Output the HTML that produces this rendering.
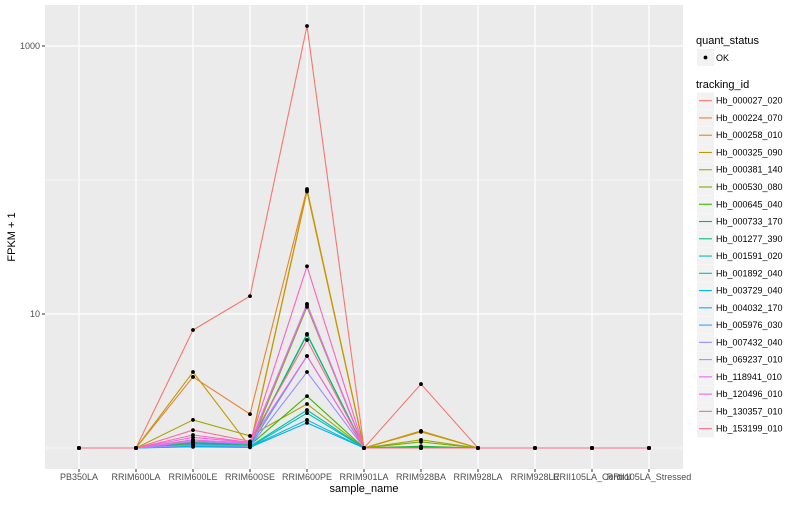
<!DOCTYPE html>
<html><head><meta charset="utf-8"><style>
body{margin:0;background:#fff}
svg text{font-family:"Liberation Sans",sans-serif}
</style></head><body>
<svg id="c" width="800" height="500" xmlns="http://www.w3.org/2000/svg">
<rect x="45" y="5" width="638" height="464" fill="#EBEBEB"/>
<g id="grid"></g><g id="series"></g><g id="axes"></g><g id="legend"></g>
</svg>
<script>
const categories=["PB350LA","RRIM600LA","RRIM600LE","RRIM600SE","RRIM600PE","RRIM901LA","RRIM928BA","RRIM928LA","RRIM928LE","RRII105LA_Control","RRII105LA_Stressed"];
const trackingIds=["Hb_000027_020","Hb_000224_070","Hb_000258_010","Hb_000325_090","Hb_000381_140","Hb_000530_080","Hb_000645_040","Hb_000733_170","Hb_001277_390","Hb_001591_020","Hb_001892_040","Hb_003729_040","Hb_004032_170","Hb_005976_030","Hb_007432_040","Hb_069237_010","Hb_118941_010","Hb_120496_010","Hb_130357_010","Hb_153199_010"];
const colors=["#F8766D","#EA8331","#D89000","#C09B00","#A3A500","#7CAE00","#39B600","#00BB4E","#00BF7D","#00C1A3","#00BFC4","#00BAE0","#00B0F6","#35A2FF","#9590FF","#C77CFF","#E76BF3","#FA62DB","#FF62BC","#FF6C91"];
const s00=[1,1,7.6,13.6,1410,1,3.0,1,1,1,1];
const s01=[1,1,3.39,1.79,85.7,1,1.34,1,1,1,1];
const s02=[1,1,1.15,1.03,84,1,1.32,1,1,1,1];
const s03=[1,1,3.69,1.02,82,1,1.34,1,1,1,1];
const s04=[1,1,1.62,1.23,2.13,1,1.15,1,1,1,1];
const s05=[1,1,1.06,1.03,11.3,1,1.11,1,1,1,1];
const s06=[1,1,1.08,1.05,2.44,1,1.03,1,1,1,1];
const s07=[1,1,1.12,1.07,7.1,1,1.02,1,1,1,1];
const s08=[1,1,1.1,1.05,7.0,1,1,1,1,1,1];
const s09=[1,1,1.05,1.03,1.92,1,1,1,1,1,1];
const s10=[1,1,1.04,1.02,1.82,1,1,1,1,1,1];
const s11=[1,1,1.03,1.02,1.62,1,1,1,1,1,1];
const s12=[1,1,1.02,1.01,1.54,1,1,1,1,1,1];
const s13=[1,1,1.06,1.04,4.86,1,1,1,1,1,1];
const s14=[1,1,1.05,1.03,3.69,1,1,1,1,1,1];
const s15=[1,1,1.12,1.08,11.7,1,1,1,1,1,1];
const s16=[1,1,1.15,1.09,11.9,1,1,1,1,1,1];
const s17=[1,1,1.2,1.1,4.86,1,1,1,1,1,1];
const s18=[1,1,1.25,1.1,22.7,1,1,1,1,1,1];
const s19=[1,1,1.36,1.12,6.4,1,1,1,1,1,1];
const seriesValues=[s00,s01,s02,s03,s04,s05,s06,s07,s08,s09,s10,s11,s12,s13,s14,s15,s16,s17,s18,s19];
const yMajor=[10,1000];
const yMinor=[1,100];

const NS="http://www.w3.org/2000/svg";
const xs=i=>79+57*i;
const ys=v=>448-134*Math.log10(v);
function mk(tag,attrs,parent,txt){const e=document.createElementNS(NS,tag);for(const k in attrs)e.setAttribute(k,attrs[k]);if(txt!==undefined)e.textContent=txt;parent.appendChild(e);return e;}
const grid=document.getElementById('grid'),ser=document.getElementById('series'),ax=document.getElementById('axes'),leg=document.getElementById('legend');
yMinor.forEach(v=>{const l=mk('line',{x1:45,x2:683,y1:ys(v),y2:ys(v),stroke:'#fff','stroke-width':0.6},grid);});
yMajor.forEach(v=>{const l=mk('line',{x1:45,x2:683,y1:ys(v),y2:ys(v),stroke:'#fff','stroke-width':1.2},grid);
 const t=mk('text',{x:40,y:ys(v)+3,'text-anchor':'end','font-size':9,fill:'#4D4D4D'},ax,String(v));
 const tk=mk('line',{x1:42,x2:45,y1:ys(v),y2:ys(v),stroke:'#333','stroke-width':1},ax);});
categories.forEach((c,i)=>{const l=mk('line',{x1:xs(i),x2:xs(i),y1:5,y2:469,stroke:'#fff','stroke-width':1.2},grid);
 const tk=mk('line',{x1:xs(i),x2:xs(i),y1:469,y2:472,stroke:'#333','stroke-width':1},ax);
 const t=mk('text',{x:xs(i),y:480,'text-anchor':'middle','font-size':9,fill:'#4D4D4D'},ax,c);});
seriesValues.forEach((vals,k)=>{const p=mk('polyline',{points:vals.map((v,i)=>xs(i)+','+ys(v)).join(' '),fill:'none',stroke:colors[k],'stroke-width':1.1},ser);
 });
seriesValues.forEach((vals,k)=>{vals.forEach((v,i)=>{const c=mk('circle',{cx:xs(i),cy:ys(v),r:1.9,fill:'#000'},ser);});});
let t=mk('text',{x:364,y:492,'text-anchor':'middle','font-size':11,fill:'#000'},ax,'sample_name');
t=mk('text',{x:15,y:237,'text-anchor':'middle','font-size':11,fill:'#000',transform:'rotate(-90 15 237)'},ax,'FPKM + 1');
t=mk('text',{x:696,y:44,'font-size':11},leg,'quant_status');
let r=mk('rect',{x:697,y:49,width:17,height:17,fill:'#F2F2F2'},leg);
let cc=mk('circle',{cx:705.5,cy:57.5,r:1.9,fill:'#000'},leg);
t=mk('text',{x:716,y:61,'font-size':9,fill:'#000'},leg,'OK');
t=mk('text',{x:696,y:88,'font-size':11},leg,'tracking_id');
trackingIds.forEach((id,k)=>{const y=100.7+17.26*k;
 const rr=mk('rect',{x:697,y:y-8.3,width:17,height:17,fill:'#F2F2F2'},leg);
 const l=mk('line',{x1:699,x2:712,y1:y,y2:y,stroke:colors[k],'stroke-width':1.1},leg);
 const tx=mk('text',{x:716,y:y+3,'font-size':9,fill:'#000'},leg,id);});
</script>
</body></html>
